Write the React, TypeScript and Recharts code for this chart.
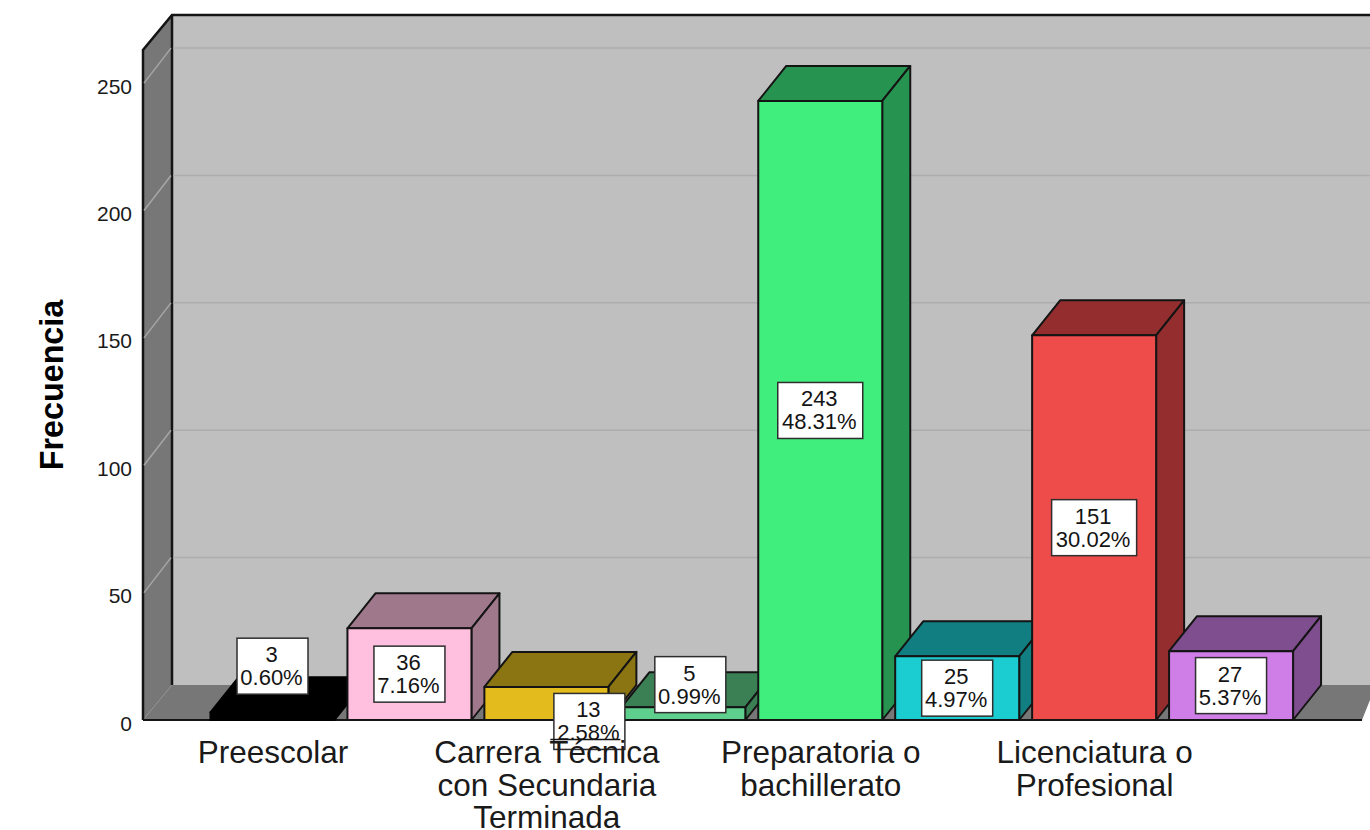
import React from "react";
import { BarChart, Bar, Cell, XAxis, YAxis, LabelList, CartesianGrid } from "recharts";

const categoryLines: string[][] = [
  ["Preescolar"],
  [],
  ["Carrera Técnica", "con Secundaria", "Terminada"],
  [],
  ["Preparatoria o", "bachillerato"],
  [],
  ["Licenciatura o", "Profesional"],
  [],
];
const frequencies = [3, 36, 13, 5, 243, 25, 151, 27];
const percentages = ["0.60%", "7.16%", "2.58%", "0.99%", "48.31%", "4.97%", "30.02%", "5.37%"];
const frontColors = ["#000000", "#ffbfdf", "#e3bb1c", "#5fcf8d", "#40ee7e", "#1bcdd0", "#ee4b4b", "#ce7ee6"];
const shadeColors = ["#000000", "#a0788c", "#8b7412", "#3b8055", "#269450", "#117f82", "#942e2e", "#7f4e8e"];
const yTicks = [0, 50, 100, 150, 200, 250];
const yMax = 263;

const data = frequencies.map((value, i) => ({
  id: i,
  label: categoryLines[i].join(" "),
  value,
  pct: percentages[i],
}));

const FONT = "'Liberation Sans', Arial, sans-serif";
const DX = 28;
const DY = 35;
const INK = "#141414";
// Hand-placed labels of the short bars, which the original pushes off centre.
const labelShift: Record<number, [number, number]> = { 0: [0, -50], 2: [43, 18], 3: [7, -29] };

const Backdrop = () => (
  <g>
    <rect x={172} y={15} width={1198} height={670} fill="#bfbfbf" />
    <polygon points="143,50 172,15 172,685 143,720" fill="#777777" />
    <polygon points="143,720 172,685 1370,685 1370,700 1362,720" fill="#777777" />
    <polyline points="143,720 143,50 172,15 1370,15" fill="none" stroke={INK} strokeWidth={2.5} />
    <line x1={172} y1={15} x2={172} y2={685} stroke={INK} strokeWidth={2.5} />
    <line x1={143} y1={720} x2={1362} y2={720} stroke={INK} strokeWidth={2} />
  </g>
);

const GridLine = (p: any) => {
  const y = p.y1 as number;
  if (y >= 719) return <g />;
  return (
    <g>
      <line x1={144} y1={y} x2={171} y2={y - DY} stroke="#a6a6a6" strokeWidth={1.5} />
      <line x1={173} y1={y - DY} x2={1370} y2={y - DY} stroke="#adadad" strokeWidth={1.5} />
    </g>
  );
};

const YTick = (p: any) => (
  <text x={132} y={p.y + 3} textAnchor="end" dominantBaseline="central" fontFamily={FONT} fontSize={21} fill="#1a1a1a">
    {p.payload.value}
  </text>
);

const XTick = (p: any) => {
  const lines = categoryLines[p.index] ?? [];
  return (
    <text textAnchor="middle" fontFamily={FONT} fontSize={31.5} fill="#1a1a1a">
      {lines.map((l, i) => (
        <tspan key={i} x={p.x} y={720 + 32 + i * 32.5} dominantBaseline="central">
          {l}
        </tspan>
      ))}
    </text>
  );
};

const Bar3D = (p: any) => {
  const { x, y, width: w, height: h, index } = p;
  const front = frontColors[index];
  const shade = shadeColors[index];
  const edge = {
    stroke: index === 0 ? "#000000" : INK,
    strokeWidth: 2,
    strokeLinejoin: "round" as const,
  };
  return (
    <g>
      <polygon points={`${x},${y} ${x + DX},${y - DY} ${x + w + DX},${y - DY} ${x + w},${y}`} fill={shade} {...edge} />
      <polygon points={`${x + w},${y} ${x + w + DX},${y - DY} ${x + w + DX},${y + h - DY} ${x + w},${y + h}`} fill={shade} {...edge} />
      <rect x={x} y={y} width={w} height={h} fill={front} {...edge} />
    </g>
  );
};

const BoxLabel = (p: any) => {
  const { x, y, width: w, height: h, index } = p;
  const [sx, sy] = labelShift[index] ?? [0, 0];
  const cx = x + w / 2 + sx;
  const cy = y + h / 2 + sy;
  const pct = percentages[index];
  const bw = pct.length > 5 ? 85 : 71;
  return (
    <g>
      <rect x={cx - bw / 2} y={cy - 28} width={bw} height={56} fill="#ffffff" stroke="#2e2e2e" strokeWidth={1.5} />
      {index === 2 && <line x1={cx - 39} y1={cy + 18} x2={cx + 31} y2={cy + 18} stroke={INK} strokeWidth={1.5} />}
      <text textAnchor="middle" fontFamily={FONT} fontSize={22} fill="#141414">
        <tspan x={cx - 1} y={cy - 11.5} dominantBaseline="central">{p.value}</tspan>
        <tspan x={cx - 1} y={cy + 11.5} dominantBaseline="central">{pct}</tspan>
      </text>
    </g>
  );
};

const YTitle = () => (
  <text
    x={52}
    y={385}
    transform="rotate(-90 52 385)"
    textAnchor="middle"
    dominantBaseline="central"
    fontFamily={FONT}
    fontSize={32.3}
    fontWeight="bold"
    fill="#000000"
  >
    Frecuencia
  </text>
);

export default function App() {
  return (
    <div style={{ position: "absolute", left: 0, top: 0, width: 1370, height: 830, background: "#fff", overflow: "hidden" }}>
      <BarChart
        width={1370}
        height={830}
        data={data}
        margin={{ top: 50, right: 70, bottom: 80, left: 144.5 }}
        barSize={124}
      >
        <Backdrop />
        <CartesianGrid vertical={false} horizontal={GridLine} horizontalValues={yTicks} zIndex={1} />
        <YAxis
          type="number"
          domain={[0, yMax]}
          ticks={yTicks}
          width={60}
          axisLine={false}
          tickLine={false}
          tick={YTick}
          interval={0}
          label={YTitle}
        />
        <Bar dataKey="value" shape={Bar3D} isAnimationActive={false}>
          {data.map((d) => (
            <Cell key={d.id} fill={frontColors[d.id]} />
          ))}
          <LabelList dataKey="value" content={BoxLabel} />
        </Bar>
        <XAxis dataKey="label" axisLine={false} tickLine={false} tick={XTick} interval={0} height={30} />
      </BarChart>
    </div>
  );
}
